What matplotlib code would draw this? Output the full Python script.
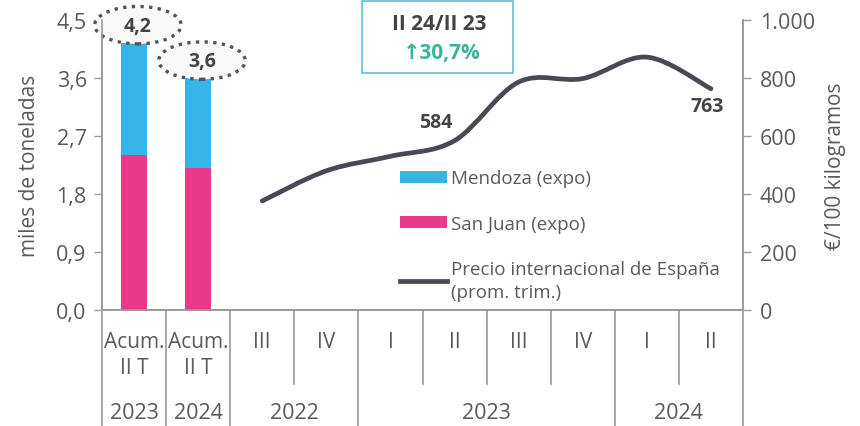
import matplotlib
matplotlib.use("Agg")
import matplotlib.pyplot as plt
from matplotlib.patches import Ellipse, Rectangle, Patch, PathPatch
from matplotlib.lines import Line2D
from matplotlib.path import Path
import matplotlib.transforms as mtransforms

plt.rcParams['font.family'] = ['Open Sans', 'DejaVu Sans']

# data
bar_labels = ["Acum.\nII T", "Acum.\nII T"]
bar_years = ["2023", "2024"]
san_juan = [2.4, 2.2]
totals = [4.15, 3.6]
mendoza = [t - s for t, s in zip(totals, san_juan)]

quarters = ["III", "IV", "I", "II", "III", "IV", "I", "II"]
q_years = ["2022", "2022", "2023", "2023", "2023", "2023", "2024", "2024"]
precio = [376, 480, 530, 584, 786, 798, 872, 763]

left_ticks = [0, 0.9, 1.8, 2.7, 3.6, 4.5]
right_ticks = [0, 200, 400, 600, 800, 1000]

CYAN = "#35b6e6"
PINK = "#e8398b"
LINE = "#474a54"
GRAY = "#5a5a5a"
AXC = "#9a9a9a"

fig = plt.figure(figsize=(8.6, 4.27), dpi=100)
W, H = 860, 427
ax = fig.add_axes([102 / W, (H - 311) / H, (743 - 102) / W, (311 - 21) / H])
ax2 = ax.twinx()

n = len(bar_labels) + len(quarters)
ax.set_xlim(-0.5, n - 0.5)
ax.set_ylim(0, 4.5)
ax2.set_ylim(0, 1000)

# bars
bx = list(range(len(bar_labels)))
ax.bar(bx, san_juan, width=0.4, color=PINK, zorder=3)
ax.bar(bx, mendoza, bottom=san_juan, width=0.4, color=CYAN, zorder=3)

# dotted ellipses with totals
for x, t in zip(bx, totals):
    e = Ellipse((x + 0.06, t + 0.27), 1.35, 0.58, facecolor="#f9f9f9",
                edgecolor="#555555", linestyle=(0, (1, 1.6)), linewidth=2.4,
                clip_on=False, zorder=4)
    ax.add_patch(e)
    ax.text(x + 0.06, t + 0.26, ("%.1f" % t).replace(".", ","), ha="center",
            va="center", fontsize=14, fontweight="bold", color="#444444", zorder=5)

# smooth price line (bezier through the points)
lx = list(range(len(bar_labels), n))
verts = [(lx[0], precio[0])]
codes = [Path.MOVETO]
for i in range(len(lx) - 1):
    p0 = (lx[max(i - 1, 0)], precio[max(i - 1, 0)])
    p1 = (lx[i], precio[i])
    p2 = (lx[i + 1], precio[i + 1])
    p3 = (lx[min(i + 2, len(lx) - 1)], precio[min(i + 2, len(lx) - 1)])
    c1 = (p1[0] + (p2[0] - p0[0]) / 6, p1[1] + (p2[1] - p0[1]) / 6)
    c2 = (p2[0] - (p3[0] - p1[0]) / 6, p2[1] - (p3[1] - p1[1]) / 6)
    verts += [c1, c2, p2]
    codes += [Path.CURVE4] * 3
ax2.add_patch(PathPatch(Path(verts, codes), facecolor="none", edgecolor=LINE,
                        linewidth=3.4, capstyle="round", zorder=3))

ax2.annotate("584", (lx[3], precio[3]), xytext=(-19, 19), textcoords="offset pixels",
             ha="center", va="center", fontsize=14, fontweight="bold", color="#444444")
ax2.annotate("763", (lx[-1], precio[-1]), xytext=(-4, -17), textcoords="offset pixels",
             ha="center", va="center", fontsize=14, fontweight="bold", color="#444444")

# axes styling
for a in (ax, ax2):
    a.spines["top"].set_visible(False)
    for s in ("left", "right", "bottom"):
        a.spines[s].set_color(AXC)
        a.spines[s].set_linewidth(1.2)
ax.set_yticks(left_ticks)
ax.set_yticklabels([("%.1f" % v).replace(".", ",") for v in left_ticks])
ax2.set_yticks(right_ticks)
ax2.set_yticklabels(["1.000" if v == 1000 else str(v) for v in right_ticks])
ax.tick_params(axis="y", colors=AXC, labelcolor=GRAY, labelsize=15.5, length=6, width=1, pad=5)
ax2.tick_params(axis="y", colors=AXC, labelcolor=GRAY, labelsize=15.5, length=6, width=1, pad=6)
ax.set_xticks([])
ax.set_ylabel("miles de toneladas", fontsize=15, color=GRAY, labelpad=12)
ax2.set_ylabel("€/100 kilogramos", fontsize=15, color=GRAY, labelpad=7)

# category labels below the axis
trans = mtransforms.blended_transform_factory(ax.transData, ax.transAxes)
cats = bar_labels + quarters
for i, c in enumerate(cats):
    if "\n" in c:
        top, bot = c.split("\n")
        ax.text(i, -0.11, top, transform=trans, ha="center", va="center",
                fontsize=15, color=GRAY)
        ax.text(i, -0.2, bot, transform=trans, ha="center", va="center",
                fontsize=15, color=GRAY)
    else:
        ax.text(i, -0.11, c, transform=trans, ha="center", va="center",
                fontsize=15, color=GRAY)

years = bar_years + q_years
groups = []
for i, y in enumerate(years):
    if i < len(bar_years) or not groups or groups[-1][0] != y or groups[-1][3]:
        groups.append([y, i, i, i < len(bar_years)])
    else:
        groups[-1][2] = i
for y, a0, a1, _ in groups:
    ax.text((a0 + a1) / 2, -0.355, y, transform=trans, ha="center", va="center",
            fontsize=15.5, color=GRAY)

long_b = {-0.5, n - 0.5}
for y, a0, a1, _ in groups:
    long_b.add(a0 - 0.5)
    long_b.add(a1 + 0.5)
for k in range(n + 1):
    b = k - 0.5
    y1 = -0.41 if b in long_b else -0.255
    ax.add_line(Line2D([b, b], [0, y1], transform=trans, color=AXC, lw=1.2,
                       clip_on=False))

# legend
handles = [Patch(facecolor=CYAN), Patch(facecolor=PINK),
           Line2D([], [], color=LINE, lw=3.4)]
labels = ["Mendoza (expo)", "San Juan (expo)",
          "Precio internacional de España\n(prom. trim.)"]
leg = fig.legend(handles, labels, loc="upper left", bbox_to_anchor=(391 / W, 1 - 161 / H),
                 frameon=False, fontsize=13.5, labelcolor=GRAY, handlelength=2.5,
                 handleheight=0.6, handletextpad=0.2, labelspacing=1.45, borderpad=0)
leg.get_texts()[2].set_linespacing(1.35)

# variation box
fig.patches.append(Rectangle((362 / W, 1 - 74 / H), (513 - 362) / W, 72 / H,
                             transform=fig.transFigure, facecolor="white",
                             edgecolor="#5bc4d6", linewidth=1.2))
fig.text(439 / W, 1 - 25 / H, "II 24/II 23", ha="center", va="center",
         fontsize=15, fontweight="bold", color="#444444")
fig.text(442 / W, 1 - 53 / H, "↑30,7%", ha="center", va="center",
         fontsize=15, fontweight="bold", color="#3db39a")

fig.savefig("out.png", dpi=100)
